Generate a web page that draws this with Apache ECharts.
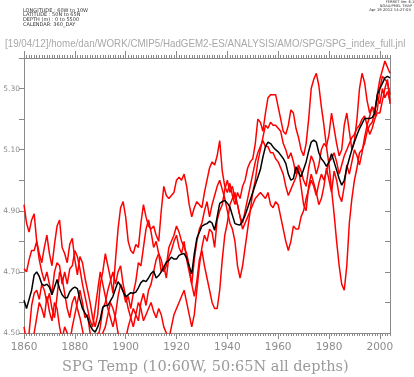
<!DOCTYPE html>
<html>
<head>
<meta charset="utf-8">
<script src="https://cdn.jsdelivr.net/npm/echarts@6/dist/echarts.min.js"></script>
<style>
  html, body { margin: 0; padding: 0; background: #fff; }
  #chart { width: 414px; height: 377px; }
</style>
</head>
<body>
<div id="chart"></div>
<script>
// annual values, 1860 .. 2004
const firstYear = 1860;
const yearLabels = [1860, 1880, 1900, 1920, 1940, 1960, 1980, 2000];

const ensMean = [
  4.607, 4.58, 4.61, 4.64, 4.69, 4.70, 4.685, 4.66, 4.655, 4.66,
  4.65, 4.625, 4.65, 4.675, 4.645, 4.625, 4.615, 4.615, 4.635, 4.645,
  4.65, 4.645, 4.61, 4.58, 4.565, 4.55, 4.525, 4.51, 4.503, 4.52,
  4.545, 4.585, 4.59, 4.59, 4.605, 4.62, 4.645, 4.668, 4.655, 4.635,
  4.618, 4.625, 4.632, 4.63, 4.634, 4.648, 4.665, 4.672, 4.668, 4.68,
  4.695, 4.703, 4.68, 4.688, 4.70, 4.715, 4.732, 4.738, 4.748, 4.742,
  4.742, 4.754, 4.758, 4.76, 4.745, 4.718, 4.694, 4.76, 4.81, 4.83,
  4.85, 4.855, 4.858, 4.866, 4.86, 4.836, 4.88, 4.924, 4.93, 4.934,
  4.925, 4.913, 4.885, 4.858, 4.855, 4.853, 4.868, 4.885, 4.91, 4.935,
  4.96, 4.985, 5.01, 5.035, 5.076, 5.11, 5.125, 5.12, 5.109, 5.10,
  5.093, 5.082, 5.071, 5.055, 5.02, 5.0, 5.005, 5.044, 5.025, 5.011,
  5.035, 5.06, 5.095, 5.125, 5.131, 5.125, 5.09, 5.07, 5.06, 5.045,
  5.06, 5.087, 5.06, 5.033, 5.005, 4.984, 5.0, 5.04, 5.071, 5.10,
  5.125, 5.148, 5.169, 5.185, 5.202, 5.202, 5.202, 5.205, 5.22, 5.28,
  5.30, 5.317, 5.335, 5.34, 5.335
];

const run1 = [
  4.92, 4.86, 4.83, 4.87, 4.89, 4.80, 4.76, 4.73, 4.78, 4.82,
  4.76, 4.72, 4.79, 4.85, 4.87, 4.78, 4.76, 4.73, 4.79, 4.81,
  4.74, 4.69, 4.75, 4.73, 4.68, 4.64, 4.60, 4.55, 4.52, 4.56,
  4.66, 4.70, 4.76, 4.72, 4.68, 4.63, 4.74, 4.84, 4.91, 4.93,
  4.88, 4.80, 4.77, 4.76, 4.79, 4.78, 4.86, 4.92, 4.88, 4.85,
  4.84, 4.85, 4.82, 4.80, 4.90, 4.98, 4.95, 4.94, 4.95, 4.96,
  5.00, 5.01, 5.00, 5.02, 4.98, 4.92, 4.88, 4.91, 4.93, 4.92,
  4.91, 4.96, 5.00, 5.04, 5.06, 5.05, 5.08, 5.13, 5.03, 4.98,
  4.96, 4.99, 4.95, 4.92, 4.96, 4.94, 4.98, 5.00, 5.04, 5.06,
  5.07, 5.12, 5.20, 5.19, 5.16, 5.22, 5.27, 5.28, 5.28, 5.28,
  5.24, 5.20, 5.16, 5.15, 5.18, 5.23, 5.22, 5.17, 5.14, 5.10,
  5.08, 5.12, 5.20, 5.30, 5.33, 5.35, 5.31, 5.24, 5.18, 5.11,
  5.05, 4.97, 4.89, 4.80, 4.72, 4.66, 4.64, 4.72, 4.86, 4.94,
  5.00, 5.04, 5.09, 5.10, 5.12, 5.16, 5.18, 5.19, 5.22, 5.28,
  5.33, 5.36, 5.39, 5.37, 5.35
];

const run2 = [
  4.71, 4.70, 4.74, 4.77, 4.77, 4.80, 4.74, 4.70, 4.67, 4.70,
  4.66, 4.63, 4.70, 4.73, 4.72, 4.66, 4.70, 4.66, 4.71, 4.72,
  4.77, 4.75, 4.71, 4.66, 4.62, 4.58, 4.54, 4.52, 4.58, 4.64,
  4.70, 4.66, 4.62, 4.58, 4.55, 4.52, 4.56, 4.62, 4.66, 4.64,
  4.60, 4.62, 4.58, 4.63, 4.67, 4.73, 4.72, 4.78, 4.84, 4.87,
  4.83, 4.78, 4.80, 4.76, 4.70, 4.72, 4.68, 4.75, 4.77, 4.80,
  4.82, 4.78, 4.76, 4.80, 4.74, 4.70, 4.66, 4.74, 4.80, 4.84,
  4.86, 4.90, 4.93, 4.88, 4.92, 4.95, 4.98, 5.00, 4.97, 4.94,
  4.90, 4.86, 4.84, 4.80, 4.72, 4.68, 4.72, 4.78, 4.84, 4.90,
  4.96, 5.00, 5.06, 5.10, 5.14, 5.18, 5.17, 5.19, 5.18, 5.18,
  5.17, 5.16, 5.12, 5.10, 5.07, 5.09, 5.06, 5.02, 5.05, 5.03,
  5.00, 4.98, 5.04, 5.08, 5.06, 5.02, 5.05, 5.10, 5.12, 5.11,
  5.15, 5.22, 5.17, 5.12, 5.08, 5.10, 5.18, 5.22, 5.16, 5.10,
  5.13, 5.20, 5.30, 5.35, 5.32, 5.26, 5.22, 5.24, 5.21, 5.23,
  5.30, 5.34, 5.33, 5.32, 5.28
];

const run3 = [
  4.52, 4.47, 4.50, 4.59, 4.63, 4.64, 4.61, 4.66, 4.64, 4.60,
  4.63, 4.58, 4.55, 4.62, 4.70, 4.68, 4.63, 4.58, 4.55, 4.60,
  4.62, 4.58, 4.55, 4.51, 4.47, 4.44, 4.46, 4.42, 4.44, 4.48,
  4.52, 4.58, 4.60, 4.64, 4.67, 4.70, 4.66, 4.70, 4.72, 4.66,
  4.62, 4.58, 4.55, 4.52, 4.56, 4.54, 4.60, 4.63, 4.59, 4.64,
  4.66, 4.70, 4.74, 4.76, 4.74, 4.70, 4.72, 4.78, 4.80, 4.82,
  4.85, 4.83, 4.80, 4.78, 4.76, 4.72, 4.66, 4.62, 4.67, 4.74,
  4.77, 4.72, 4.68, 4.64, 4.60, 4.58, 4.58, 4.64, 4.74, 4.82,
  4.86, 4.92, 4.94, 4.96, 4.92, 4.88, 4.86, 4.90, 4.94, 4.98,
  5.02, 5.06, 5.09, 5.11, 5.13, 5.11, 5.11, 5.09, 5.09, 5.07,
  5.06, 5.04, 5.02, 4.98, 4.95, 4.97, 4.99, 5.01, 5.04, 4.98,
  4.92, 4.90, 4.98, 5.02, 4.99, 4.96, 4.92, 4.94, 4.98, 5.04,
  5.00, 4.96, 5.03, 5.00, 4.95, 4.93, 4.98, 5.05, 5.02, 5.06,
  5.10, 5.08, 5.05, 5.09, 5.14, 5.18, 5.21, 5.24, 5.23, 5.27,
  5.25, 5.30, 5.27, 5.29, 5.26
];

const run4 = [
  4.40, 4.43, 4.47, 4.42, 4.50, 4.55, 4.60, 4.58, 4.55, 4.62,
  4.57, 4.54, 4.60, 4.58, 4.52, 4.48, 4.52, 4.50, 4.47, 4.52,
  4.56, 4.60, 4.64, 4.60, 4.55, 4.56, 4.50, 4.48, 4.46, 4.50,
  4.46, 4.50, 4.52, 4.56, 4.60, 4.58, 4.55, 4.50, 4.46, 4.44,
  4.48, 4.52, 4.55, 4.58, 4.56, 4.60, 4.58, 4.54, 4.56, 4.58,
  4.60, 4.57, 4.55, 4.58, 4.56, 4.52, 4.50, 4.48, 4.52, 4.56,
  4.58, 4.60, 4.62, 4.64, 4.60, 4.56, 4.52, 4.56, 4.64, 4.72,
  4.78, 4.82, 4.80, 4.84, 4.83, 4.78, 4.87, 4.90, 4.92, 4.97,
  5.00, 4.96, 4.98, 4.94, 4.92, 4.88, 4.84, 4.86, 4.88, 4.90,
  4.92, 4.94, 4.95, 4.96, 4.95, 4.94, 4.96, 4.92, 4.91, 4.93,
  4.92, 4.88, 4.84, 4.80, 4.77, 4.80, 4.85, 4.84, 4.84, 4.88,
  4.90, 4.94, 4.97, 5.00, 4.98, 4.95, 4.99, 5.02, 5.00, 5.03,
  5.06, 5.07, 5.09, 5.06, 5.02, 5.05, 5.08, 5.10, 5.12, 5.14,
  5.15, 5.17, 5.18, 5.20, 5.21, 5.18, 5.15, 5.17, 5.20, 5.22,
  5.22, 5.26, 5.30, 5.33, 5.25
];

const toPairs = (arr) => arr.map((v, i) => [firstYear + i, v]);

const axisGrey = "#8a8a8a";
const textGrey = "#8c8c8c";

function xAxisDef(position, interval, tickLen, labels) {
  const major = interval === 20;
  return {
    type: "value",
    position: position,
    min: 1860,
    max: 2004,
    interval: interval,
    axisLine: { show: true, lineStyle: { color: axisGrey, width: 1 } },
    axisTick: major
      ? { show: true, length: tickLen, customValues: yearLabels, lineStyle: { color: axisGrey } }
      : { show: true, length: tickLen, lineStyle: { color: axisGrey } },
    axisLabel: labels
      ? { show: true, customValues: yearLabels, color: textGrey, fontSize: 10.5,
          fontFamily: "DejaVu Sans", margin: 9, formatter: (v) => String(v) }
      : { show: false },
    splitLine: { show: false },
  };
}

const chart = echarts.init(document.getElementById("chart"), null, { renderer: "canvas" });

const redLine = { color: "#ff0000", width: 1.5 };
const hdr = "'DejaVu Sans'";

chart.setOption({
  animation: false,
  backgroundColor: "#fff",
  grid: { left: 24, right: 24, top: 58, bottom: 44, containLabel: false },
  xAxis: [
    xAxisDef("bottom", 1, 3, false),
    xAxisDef("bottom", 20, 6, true),
    xAxisDef("top", 1, 3, false),
    xAxisDef("top", 20, 7, false),
  ],
  yAxis: [
    {
      type: "value",
      position: "left",
      min: 4.5,
      max: 5.4,
      interval: 0.1,
      axisLine: { show: true, lineStyle: { color: axisGrey } },
      axisTick: { show: true, length: 5, lineStyle: { color: axisGrey } },
      axisLabel: {
        color: textGrey,
        fontSize: 7.5,
        fontFamily: "DejaVu Sans",
        margin: 4,
        formatter: (v) => (Math.round(v * 10) % 2 === 1 ? v.toFixed(2) : ""),
      },
      splitLine: { show: false },
    },
    {
      type: "value",
      position: "right",
      min: 4.5,
      max: 5.4,
      interval: 0.1,
      axisLine: { show: true, lineStyle: { color: axisGrey } },
      axisTick: { show: true, inside: true, length: 5, lineStyle: { color: axisGrey } },
      axisLabel: { show: false },
      splitLine: { show: false },
    },
  ],
  series: [
    { name: "r1", type: "line", data: toPairs(run1), showSymbol: false, lineStyle: redLine, z: 2 },
    { name: "r2", type: "line", data: toPairs(run2), showSymbol: false, lineStyle: redLine, z: 2 },
    { name: "r3", type: "line", data: toPairs(run3), showSymbol: false, lineStyle: redLine, z: 2 },
    { name: "r4", type: "line", data: toPairs(run4), showSymbol: false, lineStyle: redLine, z: 2 },
    { name: "mean", type: "line", data: toPairs(ensMean), showSymbol: false,
      lineStyle: { color: "#000", width: 1.5 }, z: 3 },
  ],
  graphic: [
    { type: "text", x: 23, y: 8, style: { text: "LONGITUDE : 60W to 10W", font: "5px " + hdr, fill: "#333" } },
    { type: "text", x: 23, y: 12.7, style: { text: "LATITUDE : 50N to 65N", font: "5px " + hdr, fill: "#333" } },
    { type: "text", x: 23, y: 17.3, style: { text: "DEPTH (m) : 0 to 5500", font: "5px " + hdr, fill: "#333" } },
    { type: "text", x: 23, y: 22, style: { text: "CALENDAR: 360_DAY", font: "5px " + hdr, fill: "#333" } },
    { type: "text", x: 400, y: 0, style: { text: "FERRET Ver. 6.1", font: "3.6px " + hdr, fill: "#333", align: "center" } },
    { type: "text", x: 396, y: 4, style: { text: "NOAA/PMEL TMAP", font: "3.6px " + hdr, fill: "#333", align: "center" } },
    { type: "text", x: 390, y: 8.5, style: { text: "Apr 19 2012 14:27:03", font: "3.8px " + hdr, fill: "#333", align: "center" } },
    { type: "text", x: 5, y: 39, scaleX: 0.93,
      style: { text: "[19/04/12]/home/dan/WORK/CMIP5/HadGEM2-ES/ANALYSIS/AMO/SPG/SPG_index_full.jnl",
        font: "10.5px 'Liberation Sans'", fill: "#a8a8a8" } },
    { type: "text", x: 62, y: 360, style: { text: "SPG Temp (10:60W, 50:65N all depths)",
      font: "14.5px 'DejaVu Serif'", fill: "#9a9a9a" } },
  ],
});
</script>
</body>
</html>
